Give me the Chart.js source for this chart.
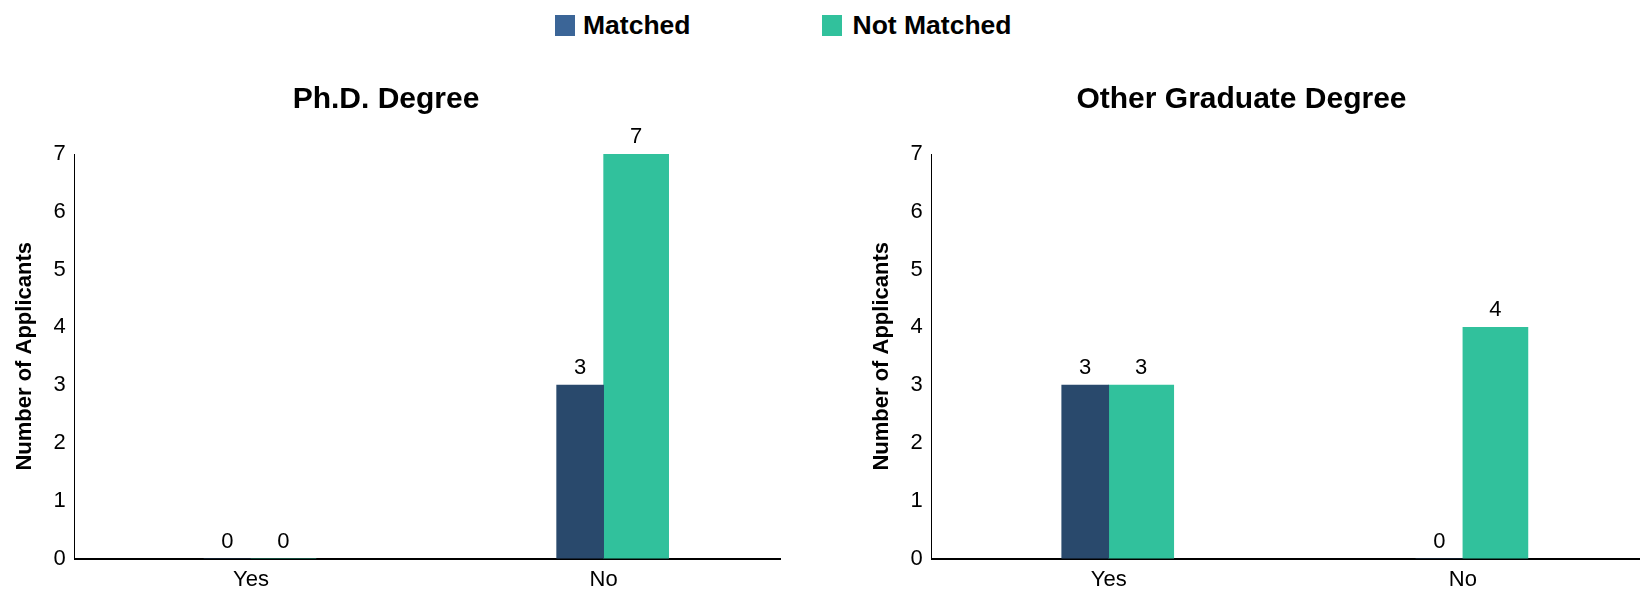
<!DOCTYPE html>
<html>
<head>
<meta charset="utf-8">
<script src="https://cdn.jsdelivr.net/npm/chart.js@4.4.1/dist/chart.umd.min.js"></script>
<style>
  body { margin:0; background:#fff; width:1640px; height:590px; position:relative; overflow:hidden;
         font-family: Arial, "Liberation Sans", sans-serif; }
  #legend { position:absolute; top:10px; left:555px; display:flex; align-items:center; }
  .item { display:flex; align-items:center; font-weight:bold; font-size:26.5px; color:#000; }
  .box { width:20px; height:21px; }
  .wrap { position:absolute; top:50px; height:551px; }
  #w1 { left:0; width:782px; }
  #w2 { left:843px; width:797px; }
</style>
</head>
<body>
<div id="legend"></div>
<div class="wrap" id="w1"><canvas id="phdChart"></canvas></div>
<div class="wrap" id="w2"><canvas id="otherChart"></canvas></div>
<script>
// ── data ──
const categories = ['Yes', 'No'];
const seriesNames = ['Matched', 'Not Matched'];
const phdMatched = [0, 3];
const phdNotMatched = [0, 7];
const otherMatched = [3, 0];
const otherNotMatched = [3, 4];
const yMax = 7;

const FONT = 'Arial, "Liberation Sans", sans-serif';
const BAR_COLORS = ['#29496c', '#31c19c'];
const LEGEND_COLORS = ['#3b6597', '#31c19c'];

// legend (shared by both panels)
document.getElementById('legend').innerHTML = seriesNames.map((n, i) =>
  `<div class="item" style="margin-right:${i === 0 ? 131 : 0}px">` +
  `<div class="box" style="background:${LEGEND_COLORS[i]};margin-right:${i === 0 ? 8 : 11}px"></div>${n}</div>`
).join('');

// value labels above each bar
const valueLabels = {
  id: 'valueLabels',
  afterDatasetsDraw(chart) {
    const ctx = chart.ctx;
    ctx.save();
    ctx.font = '22px ' + FONT;
    ctx.fillStyle = '#000';
    ctx.textAlign = 'center';
    ctx.textBaseline = 'bottom';
    chart.data.datasets.forEach((ds, i) => {
      chart.getDatasetMeta(i).data.forEach((bar, j) => {
        ctx.fillText(ds.data[j], bar.x, bar.y - 6);
      });
    });
    ctx.restore();
  }
};

// nudge the title sideways (it sits a bit left of the canvas centre)
const titleShift = {
  id: 'titleShift',
  afterLayout(chart, args, opts) {
    const t = chart.titleBlock;
    if (t && opts.dx) { t.left += opts.dx; t.right += opts.dx; }
  }
};

function makeChart(id, title, matched, notMatched, padLeft, padRight, dx) {
  return new Chart(document.getElementById(id), {
    type: 'bar',
    data: {
      labels: categories,
      datasets: [
        { label: seriesNames[0], data: matched, backgroundColor: BAR_COLORS[0], barThickness: 47 },
        { label: seriesNames[1], data: notMatched, backgroundColor: BAR_COLORS[1], barThickness: 65 }
      ]
    },
    options: {
      responsive: true, maintainAspectRatio: false, animation: false,
      layout: { padding: { left: padLeft, right: padRight, top: 0, bottom: 0 } },
      plugins: {
        legend: { display: false },
        tooltip: { enabled: false },
        titleShift: { dx: dx },
        title: { display: true, text: title, color: '#000',
                 font: { family: FONT, size: 30, weight: 'bold' }, padding: { top: 32, bottom: 36 } }
      },
      scales: {
        x: {
          grid: { display: false, drawTicks: false },
          border: { color: '#000', width: 2 },
          ticks: { color: '#000', font: { family: FONT, size: 22 }, padding: 8 }
        },
        y: {
          min: 0, max: yMax,
          grid: { display: false, drawTicks: false },
          border: { color: '#000', width: 1 },
          ticks: { stepSize: 1, color: '#000', font: { family: FONT, size: 22 }, padding: 9 },
          title: { display: true, text: 'Number of Applicants', color: '#000',
                   font: { family: FONT, size: 22, weight: 'bold' }, padding: { top: 0, bottom: 6 } }
        }
      }
    },
    plugins: [valueLabels, titleShift]
  });
}

makeChart('phdChart', 'Ph.D. Degree', phdMatched, phdNotMatched, 12, 2, -10);
makeChart('otherChart', 'Other Graduate Degree', otherMatched, otherNotMatched, 26, 0, -13);
</script>
</body>
</html>
